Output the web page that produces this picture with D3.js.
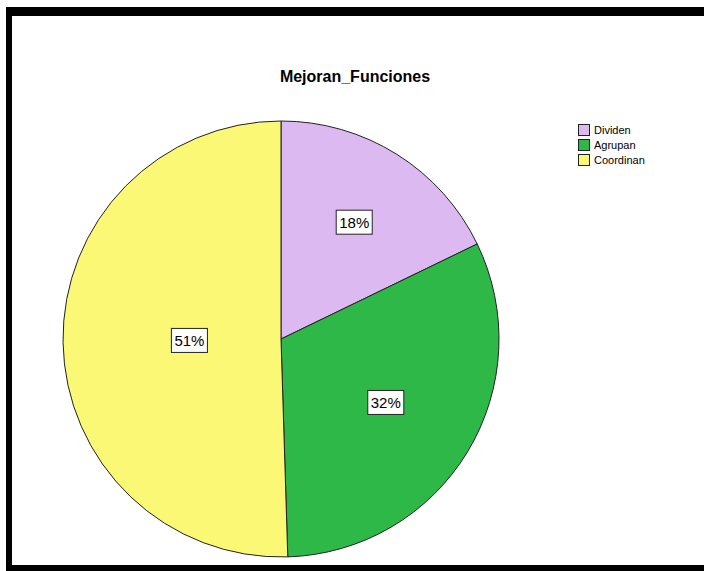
<!DOCTYPE html>
<html>
<head>
<meta charset="utf-8">
<script src="https://cdn.jsdelivr.net/npm/d3@7"></script>
<style>
  html, body { margin: 0; padding: 0; background: #fff; }
  svg { display: block; font-family: Arial, "Liberation Sans", sans-serif; }
</style>
</head>
<body>
<svg id="chart" width="704" height="571"></svg>
<script>
// Category names, shares (%) and slice colours
const categories = ["Dividen", "Agrupan", "Coordinan"];
const percentages = [18, 32, 51];
const colors = ["#DDB9F2", "#2EB848", "#FBF876"];
const chartTitle = "Mejoran_Funciones";

const svg = d3.select("#chart");
const W = 704, H = 571;

// Heavy black frame around the chart area
svg.append("rect").attr("x", 6).attr("y", 7).attr("width", W + 20).attr("height", H + 20).attr("fill", "#000");
svg.append("rect").attr("x", 12).attr("y", 16).attr("width", W + 20).attr("height", 565 - 16).attr("fill", "#fff");

// Title centred over the framed area
svg.append("text")
  .attr("x", 355).attr("y", 82)
  .attr("text-anchor", "middle")
  .attr("font-size", 16).attr("font-weight", "bold")
  .attr("fill", "#000")
  .text(chartTitle);

const cx = 281, cy = 339, R = 218;
const data = categories.map((c, i) => ({ name: c, value: percentages[i], color: colors[i] }));

const pie = d3.pie().value(d => d.value).sort(null).startAngle(0).endAngle(2 * Math.PI);
const arcs = pie(data);
const arc = d3.arc().innerRadius(0).outerRadius(R);

const g = svg.append("g").attr("transform", `translate(${cx},${cy})`);

g.selectAll("path.slice")
  .data(arcs)
  .join("path")
  .attr("class", "slice")
  .attr("d", arc)
  .attr("fill", d => d.data.color)
  .attr("stroke", "#222")
  .attr("stroke-width", 1);

// Percentage labels placed at each sector's area centroid
const labels = g.selectAll("g.lbl")
  .data(arcs)
  .join("g")
  .attr("class", "lbl")
  .attr("transform", d => {
    const half = (d.endAngle - d.startAngle) / 2;
    const mid = (d.startAngle + d.endAngle) / 2;
    const rc = (2 * R * Math.sin(half)) / (3 * half);
    return `translate(${rc * Math.sin(mid)},${-rc * Math.cos(mid)})`;
  });

labels.each(function (d) {
  const sel = d3.select(this);
  const t = sel.append("text")
    .attr("text-anchor", "middle")
    .attr("dominant-baseline", "central")
    .attr("font-size", 15)
    .attr("fill", "#000")
    .text(d.data.value + "%");
  const bb = t.node().getBBox();
  sel.insert("rect", "text")
    .attr("x", -bb.width / 2 - 3)
    .attr("y", -12)
    .attr("width", bb.width + 6)
    .attr("height", 24)
    .attr("fill", "#fff")
    .attr("stroke", "#222")
    .attr("stroke-width", 1);
});

// Legend
const legend = svg.append("g").attr("transform", "translate(578,124)");
const rows = legend.selectAll("g.row")
  .data(data)
  .join("g")
  .attr("class", "row")
  .attr("transform", (d, i) => `translate(0,${i * 15})`);
rows.append("rect")
  .attr("x", 0.5).attr("y", 0.5)
  .attr("width", 11).attr("height", 11)
  .attr("fill", d => d.color)
  .attr("stroke", "#222").attr("stroke-width", 1);
rows.append("text")
  .attr("x", 16).attr("y", 10)
  .attr("font-size", 11)
  .attr("fill", "#000")
  .text(d => d.name);
</script>
</body>
</html>
